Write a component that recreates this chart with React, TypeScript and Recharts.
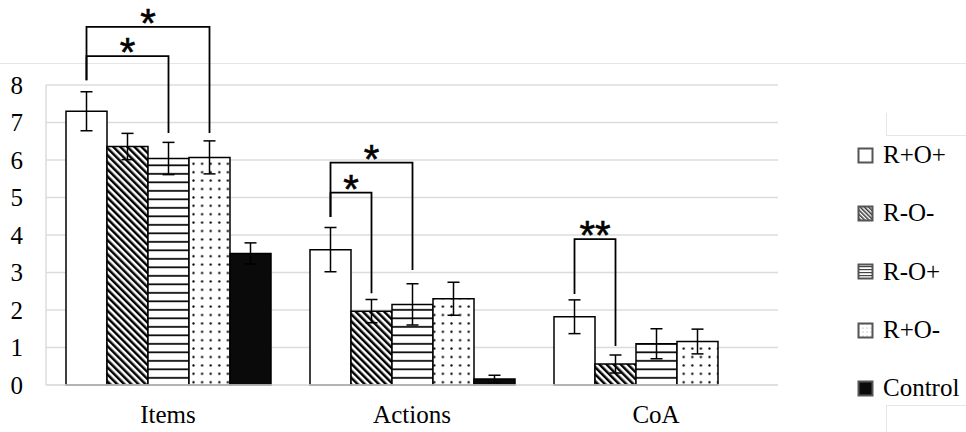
import React from 'react';
import { BarChart, Bar, XAxis, YAxis, CartesianGrid, ErrorBar, Legend, LabelList } from 'recharts';

// ---- data ----
const categories = ['Items', 'Actions', 'CoA'];
const seriesNames = ['R+O+', 'R-O-', 'R-O+', 'R+O-', 'Control'];
const valRpOp = [7.3, 3.61, 1.82];
const valRmOm = [6.36, 1.97, 0.56];
const valRmOp = [6.04, 2.15, 1.1];
const valRpOm = [6.07, 2.3, 1.16];
const valControl: (number | null)[] = [3.51, 0.16, null];
const errRpOp = [0.52, 0.59, 0.45];
const errRmOm = [0.35, 0.31, 0.24];
const errRmOp = [0.43, 0.55, 0.4];
const errRpOm = [0.44, 0.44, 0.33];
const errControl: (number | null)[] = [0.28, 0.1, null];
const yTicks = [0, 1, 2, 3, 4, 5, 6, 7, 8];

// significance brackets (series indices, values in data units)
const bracketCategory = ['Items', 'Items', 'Actions', 'Actions', 'CoA'];
const bracketFrom = [0, 0, 0, 0, 0];
const bracketTo = [2, 3, 1, 2, 1];
const bracketTop = [8.77, 9.55, 5.13, 5.93, 3.89];
const bracketLeftEnd = [8.13, 8.13, 4.48, 4.48, 2.43];
const bracketRightEnd = [6.72, 6.72, 2.45, 3.07, 1.04];
const bracketLabel = ['*', '*', '*', '*', '**'];

// ---- styling ----
const FONT = "'Liberation Serif', 'Times New Roman', Times, serif";
const STAR_FONT = "'Liberation Sans', Arial, Helvetica, sans-serif";
const seriesKeys = ['rpop', 'rmom', 'rmop', 'rpom', 'ctrl'];
const seriesFills = ['#ffffff', 'url(#patDiag)', 'url(#patHoriz)', 'url(#patDots)', '#0a0a0a'];
const legendFills = ['#ffffff', 'url(#lgDiag)', 'url(#lgHoriz)', 'url(#lgDots)', '#0a0a0a'];

const values = [valRpOp, valRmOm, valRmOp, valRpOm, valControl];
const errors = [errRpOp, errRmOm, errRmOp, errRpOm, errControl];

const data = categories.map((name, i) => {
  const row: any = { name };
  seriesKeys.forEach((k, s) => {
    row[k] = values[s][i];
    row[k + 'Err'] = errors[s][i];
  });
  return row;
});

const renderBrackets = (props: any) => {
  const vb = props.viewBox || {};
  const x = Number(props.x ?? vb.x);
  const y = Number(props.y ?? vb.y);
  const width = Number(props.width ?? vb.width);
  const height = Number(props.height ?? vb.height);
  const idx = props.index;
  const cat = categories[idx];
  const value = valRpOp[idx];
  if (!cat || !value || !isFinite(x) || !isFinite(height)) return null;
  const zeroY = y + height;
  const ppu = height / value;
  const toY = (v: number) => zeroY - v * ppu;
  const cx = (k: number) => x + width * (k + 0.5);
  const items: any[] = [];
  bracketCategory.forEach((c, j) => {
    if (c !== cat) return;
    const lx = cx(bracketFrom[j]);
    const rx = cx(bracketTo[j]);
    const ty = toY(bracketTop[j]);
    const ly = toY(bracketLeftEnd[j]);
    const ry = toY(bracketRightEnd[j]);
    items.push(
      <g key={j}>
        <path d={`M${lx},${ly} L${lx},${ty} L${rx},${ty} L${rx},${ry}`} fill="none" stroke="#000" strokeWidth={1.8} />
        <text x={(lx + rx) / 2} y={ty + 10} textAnchor="middle" fontFamily={STAR_FONT} fontSize={40} fill="#000" stroke="#000" strokeWidth={0.6}>
          {bracketLabel[j]}
        </text>
      </g>
    );
  });
  return <g>{items}</g>;
};

const LegendIcon = ({ idx }: { idx: number }) => (
  <svg width={17} height={17} style={{ display: 'block', flex: 'none' }}>
    <defs>
      <pattern id="lgDiag" patternUnits="userSpaceOnUse" width={3} height={3} patternTransform="rotate(-45)">
        <rect x={0} y={0} width={3} height={3} fill="#fff" />
        <rect x={0} y={0} width={1.5} height={3} fill="#333" />
      </pattern>
      <pattern id="lgHoriz" patternUnits="userSpaceOnUse" width={4} height={3}>
        <rect x={0} y={0} width={4} height={3} fill="#fff" />
        <rect x={0} y={0} width={4} height={1.2} fill="#444" />
      </pattern>
      <pattern id="lgDots" patternUnits="userSpaceOnUse" width={4} height={4}>
        <rect x={0} y={0} width={4} height={4} fill="#fff" />
        <circle cx={2} cy={2} r={0.6} fill="#999" />
      </pattern>
    </defs>
    <rect x={1.5} y={1.5} width={14} height={14} fill={legendFills[idx]} stroke="#555" strokeWidth={2} />
  </svg>
);

const renderLegend = (props: any) => {
  const payload = [...(props.payload || [])].sort(
    (a: any, b: any) => seriesKeys.indexOf(a.dataKey) - seriesKeys.indexOf(b.dataKey)
  );
  return (
    <div style={{ fontFamily: FONT, fontSize: 25, color: '#000' }}>
      {payload.map((p: any, i: number) => {
        const s = Math.max(0, seriesKeys.indexOf(p.dataKey));
        return (
          <div key={i} style={{ display: 'flex', alignItems: 'center', height: 58.3 }}>
            <LegendIcon idx={s} />
            <span style={{ marginLeft: 9, whiteSpace: 'nowrap' }}>{p.value}</span>
          </div>
        );
      })}
    </div>
  );
};

export default function App() {
  return (
    <div style={{ position: 'absolute', left: 0, top: 0, width: 966, height: 432, background: '#fff' }}>
      <div style={{ position: 'absolute', left: 0, top: 63, width: 966, height: 0, borderTop: '1.5px solid #e6e6e6' }} />
      <div style={{ position: 'absolute', left: 886, top: 113, width: 80, height: 22, borderLeft: '1px solid #e6e6e6', borderBottom: '1px solid #e6e6e6' }} />
      <div style={{ position: 'absolute', left: 886, top: 405, width: 80, height: 27, borderLeft: '1px solid #e6e6e6', borderTop: '1px solid #e6e6e6' }} />
      <BarChart
        width={966}
        height={432}
        data={data}
        margin={{ top: 85, right: 188, left: 0, bottom: 7 }}
        barCategoryGap={20}
        barGap={0}
        style={{ position: 'absolute', left: 0, top: 0 }}
      >
        <defs>
          <pattern id="patDiag" patternUnits="userSpaceOnUse" width={5} height={5} patternTransform="rotate(-45)">
            <rect x={0} y={0} width={5} height={5} fill="#fff" />
            <rect x={0} y={0} width={2.5} height={5} fill="#000" />
          </pattern>
          <pattern id="patHoriz" patternUnits="userSpaceOnUse" width={10} height={8.5}>
            <rect x={0} y={0} width={10} height={8.5} fill="#fff" />
            <rect x={0} y={3} width={10} height={1.7} fill="#000" />
          </pattern>
          <pattern id="patDots" patternUnits="userSpaceOnUse" width={8.6} height={8.4}>
            <rect x={0} y={0} width={8.6} height={8.4} fill="#fff" />
            <circle cx={4.3} cy={4.2} r={1.15} fill="#000" />
          </pattern>
        </defs>
        <CartesianGrid vertical={false} stroke="#dcdcdc" strokeWidth={1.5} />
        <XAxis
          dataKey="name"
          axisLine={{ stroke: '#dcdcdc', strokeWidth: 1.5 }}
          tickLine={false}
          tickSize={0}
          tickMargin={20}
          height={40}
          tick={{ fontSize: 25, fontFamily: FONT, fill: '#000' }}
        />
        <YAxis
          domain={[0, 8]}
          ticks={yTicks}
          width={46}
          axisLine={{ stroke: '#dcdcdc', strokeWidth: 1.5 }}
          tickLine={false}
          tickSize={0}
          tickMargin={23}
          tick={{ fontSize: 25, fontFamily: FONT, fill: '#000' }}
        />
        <Legend
          layout="vertical"
          align="center"
          verticalAlign="middle"
          itemSorter={null as any}
          content={renderLegend}
          wrapperStyle={{ left: 857, top: 126, width: 109 }}
        />
        {seriesKeys.map((k, s) => (
          <Bar
            key={k}
            dataKey={k}
            name={seriesNames[s]}
            fill={seriesFills[s]}
            stroke="#000"
            strokeWidth={1.5}
            isAnimationActive={false}
          >
            <ErrorBar dataKey={k + 'Err'} width={6} stroke="#000" strokeWidth={1.5} direction="y" />
            {s === 0 ? <LabelList dataKey={k} content={renderBrackets} /> : null}
          </Bar>
        ))}
      </BarChart>
    </div>
  );
}
